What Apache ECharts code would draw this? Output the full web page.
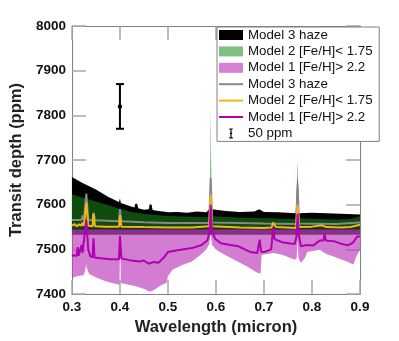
<!DOCTYPE html>
<html>
<head>
<meta charset="utf-8">
<script src="https://cdn.jsdelivr.net/npm/echarts@6/dist/echarts.min.js"></script>
<style>
html, body { margin: 0; padding: 0; background: #fff; }
#chart { width: 399px; height: 341px; }
</style>
</head>
<body>
<div id="chart"></div>
<script>
// axis ranges
const xRange = [0.3, 0.9];
const yRange = [7400, 8000];

// Model 3 haze band (black)
const blackTop = [[0.300,7662],[0.320,7650],[0.350,7634],[0.375,7618],[0.398,7606],[0.400,7614],[0.402,7604],[0.420,7597],[0.430,7594],[0.432,7602],[0.436,7602],[0.438,7592],[0.450,7589],[0.460,7590],[0.462,7601],[0.466,7600],[0.468,7588],[0.480,7586],[0.490,7585],[0.500,7583],[0.520,7584],[0.540,7582],[0.560,7585],[0.580,7583],[0.586,7590],[0.589,7656],[0.592,7590],[0.620,7586],[0.650,7584],[0.680,7585],[0.690,7590],[0.700,7584],[0.730,7583],[0.766,7581],[0.770,7663],[0.773,7581],[0.800,7582],[0.830,7581],[0.860,7580],[0.900,7578]];
const blackBottom = [[0.300,7533],[0.900,7533]];

// Model 2 band (green)
const greenTop = [[0.300,7623],[0.320,7617],[0.350,7607],[0.380,7598],[0.400,7591],[0.420,7585],[0.450,7579],[0.500,7575],[0.550,7573],[0.586,7572],[0.588,7700],[0.589,7820],[0.590,7700],[0.592,7574],[0.650,7571],[0.700,7570],[0.767,7568],[0.769,7670],[0.770,7700],[0.771,7660],[0.773,7570],[0.850,7567],[0.880,7568],[0.900,7574]];
const greenBottom = [[0.300,7546],[0.900,7546]];

// Model 1 band (pink)
const pinkTop = [[0.300,7545],[0.328,7545],[0.330,7565],[0.332,7545],[0.586,7545],[0.589,7600],[0.592,7545],[0.767,7545],[0.770,7580],[0.773,7545],[0.900,7545]];
const pinkBottom = [[0.300,7436],[0.310,7440],[0.325,7443],[0.329,7460],[0.330,7468],[0.331,7458],[0.336,7445],[0.350,7437],[0.370,7429],[0.390,7423],[0.399,7421],[0.4005,7527],[0.402,7425],[0.413,7422],[0.432,7418],[0.452,7411],[0.462,7405],[0.471,7409],[0.481,7417],[0.490,7422],[0.497,7425],[0.500,7440],[0.510,7455],[0.530,7465],[0.550,7473],[0.570,7490],[0.580,7500],[0.586,7512],[0.589,7535],[0.592,7510],[0.600,7500],[0.608,7494],[0.627,7483],[0.647,7472],[0.666,7461],[0.686,7448],[0.693,7446],[0.695,7488],[0.720,7492],[0.738,7488],[0.764,7477],[0.768,7480],[0.770,7520],[0.772,7480],[0.777,7470],[0.785,7480],[0.790,7494],[0.816,7499],[0.830,7490],[0.848,7483],[0.875,7472],[0.886,7466],[0.894,7488],[0.900,7499]];

// model lines
const grayLine = [[0.300,7566],[0.320,7566],[0.322,7576],[0.325,7566],[0.330,7625],[0.334,7566],[0.343,7565],[0.345,7582],[0.348,7565],[0.398,7563],[0.400,7590],[0.403,7563],[0.450,7561],[0.500,7559],[0.586,7559],[0.589,7660],[0.592,7560],[0.650,7559],[0.700,7558],[0.767,7557],[0.770,7645],[0.773,7558],[0.850,7557],[0.900,7560]];
const orangeLine = [[0.300,7553],[0.305,7557],[0.310,7552],[0.315,7556],[0.320,7553],[0.322,7560],[0.325,7553],[0.330,7605],[0.334,7553],[0.343,7552],[0.345,7580],[0.348,7552],[0.370,7551],[0.398,7551],[0.400,7576],[0.403,7551],[0.450,7550],[0.500,7549],[0.550,7549],[0.586,7552],[0.589,7622],[0.592,7552],[0.650,7549],[0.700,7548],[0.716,7549],[0.719,7560],[0.725,7550],[0.767,7548],[0.770,7600],[0.773,7550],[0.800,7551],[0.820,7554],[0.830,7550],[0.860,7549],[0.880,7550],[0.900,7555]];
const purpleLine = [[0.300,7486],[0.305,7487],[0.310,7485],[0.312,7505],[0.314,7486],[0.318,7490],[0.320,7510],[0.322,7492],[0.326,7495],[0.330,7565],[0.334,7500],[0.338,7485],[0.343,7482],[0.345,7525],[0.347,7482],[0.360,7480],[0.380,7478],[0.398,7478],[0.400,7530],[0.403,7480],[0.420,7476],[0.440,7473],[0.450,7475],[0.460,7468],[0.470,7472],[0.480,7470],[0.490,7480],[0.500,7494],[0.520,7498],[0.550,7503],[0.570,7510],[0.582,7520],[0.587,7540],[0.589,7600],[0.592,7540],[0.598,7524],[0.610,7514],[0.630,7510],[0.647,7507],[0.660,7500],[0.672,7494],[0.686,7492],[0.689,7493],[0.691,7522],[0.694,7495],[0.700,7494],[0.715,7500],[0.719,7549],[0.722,7523],[0.738,7516],[0.755,7513],[0.764,7512],[0.768,7530],[0.770,7580],[0.773,7530],[0.777,7507],[0.790,7510],[0.803,7509],[0.816,7520],[0.824,7520],[0.826,7536],[0.829,7520],[0.847,7518],[0.860,7513],[0.875,7509],[0.886,7516],[0.894,7529],[0.900,7529]];

// error bar sample: [x, y, half-height]
const errBar = [[0.4, 7820, 50]];

const names = ['Model 3 haze', 'Model 2 [Fe/H]< 1.75', 'Model 1 [Fe/H]> 2.2'];
const bandLegend = ['#000', '#80c080', '#d580d5'];
const lineColors = ['#888888', '#f4b31b', '#b000b0'];

function band(name, top, bottom, fill, legendColor) {
  return {
    name: name,
    type: 'custom',
    silent: true,
    data: [top[0]],
    encode: { x: 0, y: 1 },
    itemStyle: { color: legendColor },
    renderItem: function (params, api) {
      const pts = top.map(p => api.coord(p))
        .concat(bottom.slice().reverse().map(p => api.coord(p)));
      return { type: 'polygon', shape: { points: pts }, style: { fill: fill } };
    }
  };
}

function line(name, data, color) {
  return {
    name: name,
    type: 'line',
    data: data,
    symbol: 'none',
    silent: true,
    color: color,
    lineStyle: { width: 2, color: color }
  };
}

const lineIcon = 'path://M0,0M24,10M0,4H24V6H0Z';
const barIcon = 'path://M0,0M24,0M24,14M0,14M9.5,0H14.5V1.6H12.8V6H13.6V8H12.8V12.4H14.5V14H9.5V12.4H11.2V8H10.4V6H11.2V1.6H9.5Z';

const boldAxis = { fontWeight: 'bold', fontSize: 13.5, color: '#111', fontFamily: 'Liberation Sans' };
const tickStyle = { inside: true, length: 14, lineStyle: { color: '#a8a8a8', width: 1.5 } };
const lineAx = { show: true, lineStyle: { color: '#808080', width: 1 } };

const option = {
  animation: false,
  grid: { left: 52, right: 39, top: 26, bottom: 41 },
  xAxis: [{
    type: 'value', min: xRange[0], max: xRange[1], interval: 0.1,
    axisLine: lineAx, axisTick: tickStyle, splitLine: { show: false },
    axisLabel: Object.assign({ margin: 6, formatter: v => v.toFixed(1) }, boldAxis),
    name: 'Wavelength (micron)', nameLocation: 'middle', nameGap: 23,
    nameTextStyle: { fontWeight: 'bold', fontSize: 16.5, color: '#222', fontFamily: 'Liberation Sans' }
  }, {
    type: 'value', position: 'top', min: xRange[0], max: xRange[1], interval: 0.1,
    axisLine: lineAx, axisTick: tickStyle, axisLabel: { show: false }, splitLine: { show: false }
  }],
  yAxis: [{
    type: 'value', min: yRange[0], max: yRange[1], interval: 100,
    axisLine: lineAx, axisTick: tickStyle, splitLine: { show: false },
    axisLabel: Object.assign({ margin: 6, formatter: v => String(v) }, boldAxis),
    name: 'Transit depth (ppm)', nameLocation: 'middle', nameGap: 35,
    nameTextStyle: { fontWeight: 'bold', fontSize: 16.5, color: '#222', fontFamily: 'Liberation Sans' }
  }, {
    type: 'value', position: 'right', min: yRange[0], max: yRange[1], interval: 100,
    axisLine: lineAx, axisTick: tickStyle, axisLabel: { show: false }, splitLine: { show: false }
  }],
  legend: {
    orient: 'vertical', left: 217, top: 27,
    padding: [1, 3, 1, 2], itemGap: 2.4, itemWidth: 24, itemHeight: 10,
    backgroundColor: '#fff', borderColor: '#808080', borderWidth: 1,
    selectedMode: false,
    textStyle: { fontSize: 13.3, lineHeight: 14, color: '#111', fontFamily: 'Liberation Sans' },
    data: [
      { name: names[0], icon: 'rect', itemStyle: { color: bandLegend[0] } },
      { name: names[1], icon: 'rect', itemStyle: { color: bandLegend[1] } },
      { name: names[2], icon: 'rect', itemStyle: { color: bandLegend[2] } },
      { name: names[0] + ' ', icon: lineIcon, itemStyle: { color: lineColors[0] } },
      { name: names[1] + ' ', icon: lineIcon, itemStyle: { color: lineColors[1] } },
      { name: names[2] + ' ', icon: lineIcon, itemStyle: { color: lineColors[2] } },
      { name: '50 ppm', icon: barIcon, itemStyle: { color: '#000' } }
    ]
  },
  series: [
    band(names[0], blackTop, blackBottom, '#000', bandLegend[0]),
    band(names[1], greenTop, greenBottom, 'rgba(23,138,23,0.55)', bandLegend[1]),
    band(names[2], pinkTop, pinkBottom, 'rgba(191,69,191,0.7)', bandLegend[2]),
    line(names[0] + ' ', grayLine, lineColors[0]),
    line(names[1] + ' ', orangeLine, lineColors[1]),
    line(names[2] + ' ', purpleLine, lineColors[2]),
    {
      name: '50 ppm',
      type: 'custom',
      data: errBar,
      encode: { x: 0, y: 1 },
      itemStyle: { color: '#000' },
      renderItem: function (params, api) {
        const x = api.value(0), y = api.value(1), e = api.value(2);
        const t = api.coord([x, y + e]), b = api.coord([x, y - e]), m = api.coord([x, y]);
        const cap = 4;
        const s = { stroke: '#000', lineWidth: 2 };
        return {
          type: 'group',
          children: [
            { type: 'line', shape: { x1: t[0], y1: t[1], x2: b[0], y2: b[1] }, style: s },
            { type: 'line', shape: { x1: t[0] - cap, y1: t[1], x2: t[0] + cap, y2: t[1] }, style: s },
            { type: 'line', shape: { x1: b[0] - cap, y1: b[1], x2: b[0] + cap, y2: b[1] }, style: s },
            { type: 'circle', shape: { cx: m[0], cy: m[1], r: 2.2 }, style: { fill: '#000' } }
          ]
        };
      }
    }
  ]
};

echarts.init(document.getElementById('chart')).setOption(option);
</script>
</body>
</html>
